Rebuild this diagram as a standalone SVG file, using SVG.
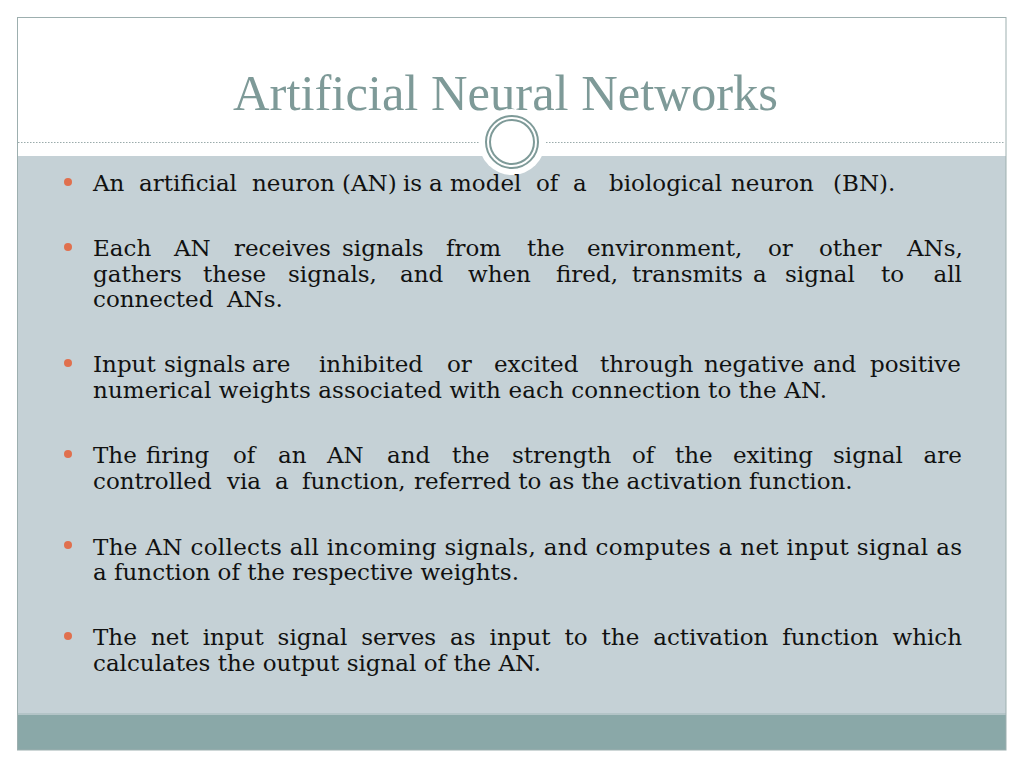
<svg xmlns="http://www.w3.org/2000/svg" width="1024" height="768" viewBox="0 0 1024 768">
<style>
.body{font-family:"DejaVu Serif","Liberation Serif",serif;font-size:23px;fill:#111111}
.title{font-family:"Liberation Serif","DejaVu Serif",serif;font-size:50px;fill:#7E9A98}
.dot{fill:#E0704E}
.ring{fill:none;stroke:#7E9A98;stroke-width:2}
</style>
<rect x="0" y="0" width="1024" height="768" fill="#ffffff"/>
<g id="frame">
<rect x="17" y="156" width="989" height="558" fill="#C5D1D6"/>
<rect x="17" y="713" width="989" height="2" fill="#B3C4C7"/>
<rect x="17" y="715" width="989" height="35" fill="#8AA8A8"/>
<rect x="17.5" y="17.5" width="988.5" height="732.5" fill="none" stroke="#9DAFAF" stroke-width="1"/>
<line x1="18" y1="142.5" x2="1005" y2="142.5" stroke="#9AABAB" stroke-width="1" stroke-dasharray="1.5 1.5"/>
</g>
<g id="title">
<text class="title" x="233" y="110" textLength="545" lengthAdjust="spacingAndGlyphs">Artificial Neural Networks</text>
</g>
<g id="emblem">
<circle cx="512" cy="142" r="33" fill="#ffffff"/>
<circle class="ring" cx="512" cy="142" r="26"/>
<circle class="ring" cx="512" cy="142" r="22"/>
</g>
<g id="bullet1">
<circle class="dot" cx="68" cy="182" r="4"/>
<text class="body" y="191"><tspan x="93">An</tspan><tspan x="139">artificial</tspan><tspan x="252">neuron</tspan><tspan x="342">(AN)</tspan><tspan x="403">is</tspan><tspan x="429">a</tspan><tspan x="450">model</tspan><tspan x="536">of</tspan><tspan x="573">a</tspan><tspan x="609">biological</tspan><tspan x="731">neuron</tspan><tspan x="833">(BN).</tspan></text>
</g>
<g id="bullet2">
<circle class="dot" cx="68" cy="247" r="4"/>
<text class="body" y="256"><tspan x="93">Each</tspan><tspan x="174">AN</tspan><tspan x="234">receives</tspan><tspan x="342">signals</tspan><tspan x="446">from</tspan><tspan x="527">the</tspan><tspan x="587">environment,</tspan><tspan x="768">or</tspan><tspan x="819">other</tspan><tspan x="907">ANs,</tspan></text>
<text class="body" y="281.5"><tspan x="93">gathers</tspan><tspan x="203">these</tspan><tspan x="288">signals,</tspan><tspan x="400">and</tspan><tspan x="468">when</tspan><tspan x="556">fired,</tspan><tspan x="632">transmits</tspan><tspan x="753">a</tspan><tspan x="785">signal</tspan><tspan x="881">to</tspan><tspan x="933.5">all</tspan></text>
<text class="body" y="307"><tspan x="93">connected</tspan><tspan x="227">ANs.</tspan></text>
</g>
<g id="bullet3">
<circle class="dot" cx="68" cy="363" r="4"/>
<text class="body" y="372"><tspan x="93">Input</tspan><tspan x="164">signals</tspan><tspan x="252">are</tspan><tspan x="319">inhibited</tspan><tspan x="447">or</tspan><tspan x="494">excited</tspan><tspan x="600">through</tspan><tspan x="704">negative</tspan><tspan x="813">and</tspan><tspan x="870">positive</tspan></text>
<text class="body" x="93" y="397.5" textLength="734" lengthAdjust="spacing">numerical weights associated with each connection to the AN.</text>
</g>
<g id="bullet4">
<circle class="dot" cx="68" cy="454" r="4"/>
<text class="body" y="463"><tspan x="93">The</tspan><tspan x="146">firing</tspan><tspan x="233">of</tspan><tspan x="278">an</tspan><tspan x="327">AN</tspan><tspan x="387">and</tspan><tspan x="452">the</tspan><tspan x="512">strength</tspan><tspan x="632">of</tspan><tspan x="675">the</tspan><tspan x="733">exiting</tspan><tspan x="833">signal</tspan><tspan x="923.5">are</tspan></text>
<text class="body" y="489"><tspan x="93">controlled</tspan><tspan x="227">via</tspan><tspan x="275">a</tspan><tspan x="302">function,</tspan><tspan x="414">referred to as the activation function.</tspan></text>
</g>
<g id="bullet5">
<circle class="dot" cx="68" cy="545" r="4"/>
<text class="body" x="93" y="554.5" textLength="869" lengthAdjust="spacing">The AN collects all incoming signals, and computes a net input signal as</text>
<text class="body" x="93" y="580">a function of the respective weights.</text>
</g>
<g id="bullet6">
<circle class="dot" cx="68" cy="636" r="4"/>
<text class="body" y="645"><tspan x="93">The</tspan><tspan x="151">net</tspan><tspan x="202.7">input</tspan><tspan x="277.6">signal</tspan><tspan x="361.3">serves</tspan><tspan x="450">as</tspan><tspan x="489.6">input</tspan><tspan x="564.5">to</tspan><tspan x="601.6">the</tspan><tspan x="653.2">activation</tspan><tspan x="782.3">function</tspan><tspan x="892.5">which</tspan></text>
<text class="body" x="93" y="671">calculates the output signal of the AN.</text>
</g>
</svg>
